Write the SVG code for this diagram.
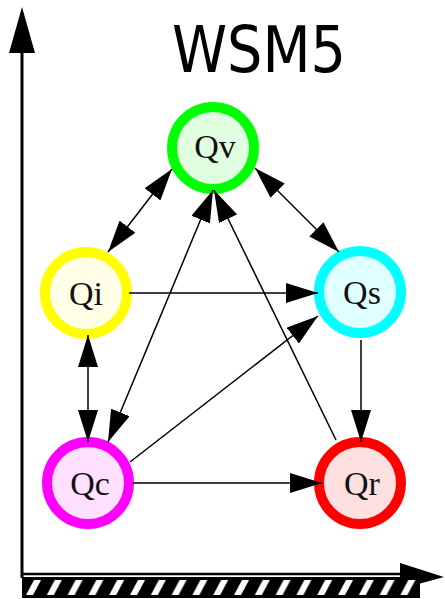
<svg xmlns="http://www.w3.org/2000/svg" width="445" height="599" viewBox="0 0 445 599">
<style>
.ring{stroke-width:10}
.lbl{font-family:"Liberation Serif","Times New Roman",serif;font-size:34px;text-anchor:middle;fill:#111}
.ed{stroke:#000;stroke-width:1.5;fill:none}
</style>
<defs>
<marker id="ah" markerUnits="userSpaceOnUse" markerWidth="32" markerHeight="20" refX="32" refY="10" orient="auto-start-reverse" viewBox="0 0 32 20">
<path d="M0,0 L32,10 L0,20 z" fill="#000"/>
</marker>
<pattern id="hatch" patternUnits="userSpaceOnUse" x="25" y="0" width="20.8" height="599">
<polygon points="1,595 8,595 16,580 9,580" fill="#fff"/>
</pattern>
</defs>
<rect width="445" height="599" fill="#fff"/>
<g id="axes">
<line x1="22" y1="48" x2="22" y2="578" stroke="#000" stroke-width="3"/>
<polygon points="22,7 9,53 35,53" fill="#000"/>
<line x1="22" y1="574" x2="404" y2="574" stroke="#000" stroke-width="2.5"/>
<polygon points="400,563 444,577 400,589" fill="#000"/>
<rect x="22" y="577" width="398" height="21" fill="#000"/>
<rect x="24" y="579" width="393" height="17" fill="url(#hatch)"/>
</g>
<text id="title" x="259" y="72" font-family="'DejaVu Sans Condensed','DejaVu Sans',Verdana,sans-serif" font-size="64" text-anchor="middle" textLength="174" lengthAdjust="spacingAndGlyphs">WSM5</text>
<g id="Qv"><circle class="ring" cx="213" cy="148" r="41" fill="#e0ffe0" stroke="#00ff00"/><text class="lbl" x="215" y="158">Qv</text></g>
<g id="Qi"><circle class="ring" cx="86" cy="293" r="41" fill="#ffffe8" stroke="#ffff00"/><text class="lbl" x="86" y="305">Qi</text></g>
<g id="Qs"><circle class="ring" cx="360" cy="292" r="41" fill="#e0ffff" stroke="#00ffff"/><text class="lbl" x="362" y="304">Qs</text></g>
<g id="Qc"><circle class="ring" cx="88" cy="483" r="41" fill="#ffe0ff" stroke="#ff00ff"/><text class="lbl" x="90" y="495">Qc</text></g>
<g id="Qr"><circle class="ring" cx="360" cy="483" r="41" fill="#ffe0e0" stroke="#ff0000"/><text class="lbl" x="362" y="495">Qr</text></g>
<g id="connectors">
<line class="ed" x1="108" y1="252" x2="172" y2="169" marker-start="url(#ah)" marker-end="url(#ah)"/>
<line class="ed" x1="255" y1="168" x2="339" y2="252" marker-start="url(#ah)" marker-end="url(#ah)"/>
<line class="ed" x1="129" y1="293" x2="318" y2="293" marker-end="url(#ah)"/>
<line class="ed" x1="88" y1="335" x2="88" y2="442" marker-start="url(#ah)" marker-end="url(#ah)"/>
<line class="ed" x1="108" y1="442" x2="213" y2="190" marker-start="url(#ah)" marker-end="url(#ah)"/>
<line class="ed" x1="130" y1="462" x2="318" y2="316" marker-end="url(#ah)"/>
<line class="ed" x1="133" y1="483" x2="322" y2="483" marker-end="url(#ah)"/>
<line class="ed" x1="361" y1="340" x2="361" y2="442" marker-end="url(#ah)"/>
<line class="ed" x1="336" y1="440" x2="214" y2="190" marker-end="url(#ah)"/>
</g>
</svg>
